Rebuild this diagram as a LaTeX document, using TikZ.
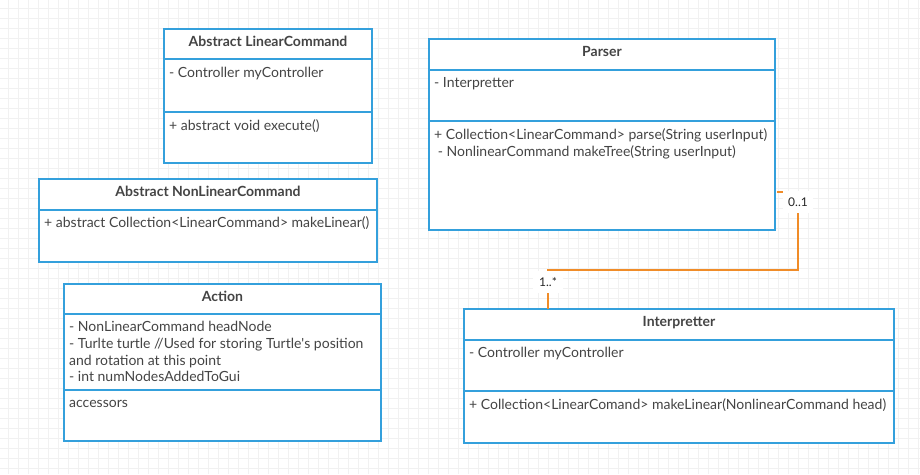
\documentclass[tikz,border=0pt]{standalone}
\usepackage{fontspec}
\setmainfont{Lato}
\usetikzlibrary{calc}
\definecolor{umlblue}{RGB}{52,160,220}
\definecolor{connorange}{RGB}{240,140,40}
\definecolor{txtgray}{RGB}{68,68,68}
\definecolor{gridgray}{RGB}{241,241,241}
\begin{document}
\begin{tikzpicture}[x=1pt,y=-1pt,
  umlbox/.style={draw=umlblue,line width=2pt,fill=white,anchor=north west,inner sep=0pt,outer sep=0pt},
  divline/.style={draw=umlblue,line width=2pt},
  umltitle/.style={font=\fontsize{14}{16.7}\selectfont\bfseries,text=txtgray,anchor=base,inner sep=0pt},
  umltxt/.style={font=\fontsize{14}{16.7}\selectfont,text=txtgray,anchor=base west,inner sep=0pt},
  conn/.style={draw=connorange,line width=2pt},
  mult/.style={font=\fontsize{12}{14}\selectfont,text=black!85,fill=white,inner sep=0pt,minimum width=30,minimum height=22}]
\useasboundingbox (0,0) rectangle (920,474);
\fill[white] (0,0) rectangle (920,474);
\foreach \i in {0,...,91} {\draw[gridgray,line width=1pt] (8+10*\i,0) -- (8+10*\i,474);}
\foreach \j in {0,...,46} {\draw[gridgray,line width=1pt] (0,8+10*\j) -- (920,8+10*\j);}

% Abstract LinearCommand
\node[umlbox,minimum width=208,minimum height=134] (lc) at (164,29) {};
\draw[divline] (lc.west |- 0,59) -- (lc.east |- 0,59);
\draw[divline] (lc.west |- 0,112) -- (lc.east |- 0,112);
\node[umltitle] (lct) at ($(lc.north)+(0,17)$) {Abstract LinearCommand};
\node[umltxt] (lca) at (169,77) {- Controller myController};
\node[umltxt] (lcm) at (169,130) {+ abstract void execute()};

% Parser
\node[umlbox,minimum width=346,minimum height=191] (parser) at (429,39) {};
\draw[divline] (parser.west |- 0,70) -- (parser.east |- 0,70);
\draw[divline] (parser.west |- 0,121) -- (parser.east |- 0,121);
\node[umltitle] (pt) at ($(parser.north)+(0,17)$) {Parser};
\node[umltxt] (pa) at (434,87) {- Interpretter};
\node[umltxt] (pm1) at (434,139) {+ Collection<LinearCommand> parse(String userInput)};
\node[umltxt] (pm2) at (434,156) {\ - NonlinearCommand makeTree(String userInput)};

% Abstract NonLinearCommand
\node[umlbox,minimum width=338,minimum height=83] (nlc) at (39,179) {};
\draw[divline] (nlc.west |- 0,210) -- (nlc.east |- 0,210);
\node[umltitle] (nlct) at ($(nlc.north)+(0,17)$) {Abstract NonLinearCommand};
\node[umltxt] (nlcm) at (44,227) {+ abstract Collection<LinearCommand> makeLinear()};

% Action
\node[umlbox,minimum width=317,minimum height=157] (action) at (64,284) {};
\draw[divline] (action.west |- 0,314) -- (action.east |- 0,314);
\draw[divline] (action.west |- 0,390) -- (action.east |- 0,390);
\node[umltitle] (at) at ($(action.north)+(0,17)$) {Action};
\node[umltxt] (aa1) at (69,331) {- NonLinearCommand headNode};
\node[umltxt] (aa2) at (69,348) {- Turlte turtle //Used for storing Turtle\textquotesingle s position};
\node[umltxt] (aa3) at (69,365) {and rotation at this point};
\node[umltxt] (aa4) at (69,381) {- int numNodesAddedToGui};
\node[umltxt] (am) at (69,407) {accessors};

% Interpretter
\node[umlbox,minimum width=430,minimum height=134] (interp) at (464,309) {};
\draw[divline] (interp.west |- 0,340) -- (interp.east |- 0,340);
\draw[divline] (interp.west |- 0,391) -- (interp.east |- 0,391);
\node[umltitle] (it) at ($(interp.north)+(0,17)$) {Interpretter};
\node[umltxt] (ia) at (469,357) {- Controller myController};
\node[umltxt] (im) at (469,409) {+ Collection<LinearComand> makeLinear(NonlinearCommand head)};

% connector
\coordinate (s) at ($(parser.north east)+(2,153)$);
\coordinate (t) at ($(interp.north west)+(84,0)$);
\coordinate (b1) at (798,192);
\coordinate (b2) at (798,270);
\draw[conn] (s) -- (b1) -- (b2) -- (t |- b2) -- (t);
\node[mult] (m1) at (798,202) {0..1};
\node[mult] (m2) at (548,282) {1..*};
\end{tikzpicture}
\end{document}
